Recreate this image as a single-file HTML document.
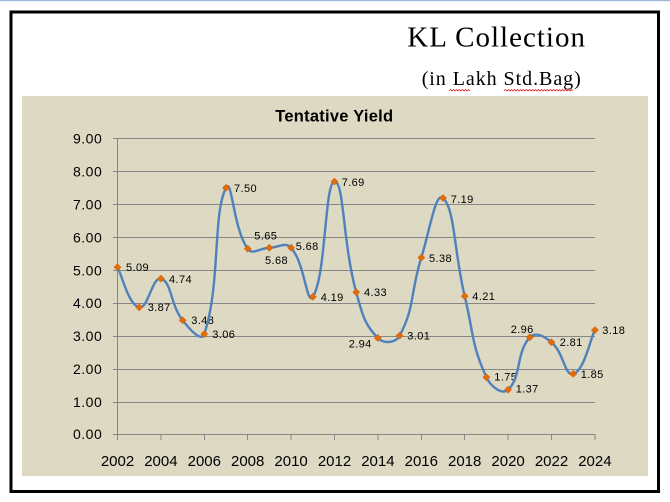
<!DOCTYPE html>
<html>
<head>
<meta charset="utf-8">
<style>
html,body{margin:0;padding:0;background:#fff;}
body{width:670px;height:502px;overflow:hidden;}
svg{display:block;}
</style>
</head>
<body>
<svg width="670" height="502" viewBox="0 0 670 502" xmlns="http://www.w3.org/2000/svg">
  <defs>
    <polygon id="dm" points="0,-3.6 3.6,0 0,3.6 -3.6,0" fill="#e36c09" stroke="#c85a06" stroke-width="0.5"/>
  </defs>
  <rect x="0" y="0" width="670" height="502" fill="#fff"/>
  <rect x="0" y="0" width="670" height="1.2" fill="#9db8d8"/>
  <rect x="11" y="12" width="647.5" height="479.5" fill="none" stroke="#000" stroke-width="3"/>

  <text x="407.3" y="46.7" font-family="Liberation Serif, serif" font-size="29" letter-spacing="1" fill="#000">KL Collection</text>
  <text x="421.7" y="85.2" font-family="Liberation Serif, serif" font-size="20" letter-spacing="0.95" fill="#000">(in Lakh Std.Bag)</text>
  <polyline fill="none" stroke="#e02020" stroke-width="0.8" points="449,90.5 450.5,89.5 452,91 453.5,89.5 455,91 456.5,89.5 458,91 459.5,89.5 461,91 462.5,89.5 464,91 465.5,89.5 467,91 468.5,89.5 470,91"/>
  <polyline fill="none" stroke="#e02020" stroke-width="0.8" points="504,90.5 505.5,89.5 507,91 508.5,89.5 510,91 511.5,89.5 513,91 514.5,89.5 516,91 517.5,89.5 519,91 520.5,89.5 522,91 523.5,89.5 525,91 526.5,89.5 528,91 529.5,89.5 531,91 532.5,89.5 534,91 535.5,89.5 537,91 538.5,89.5 540,91 541.5,89.5 543,91 544.5,89.5 546,91 547.5,89.5 549,91 550.5,89.5 552,91 553.5,89.5 555,91 556.5,89.5 558,91 559.5,89.5 561,91 562.5,89.5 564,91 565.5,89.5 567,91 568.5,89.5 570,91 571.5,89.5 573,91"/>

  <rect x="22" y="96" width="626" height="380" fill="#ddd9c3"/>

  <text x="334.3" y="121.7" text-anchor="middle" font-family="Liberation Sans, sans-serif" font-weight="bold" font-size="16.5" letter-spacing="0.25" fill="#000">Tentative Yield</text>

  <!-- gridlines -->
  <g stroke="#868686" stroke-width="1" shape-rendering="crispEdges">
    <line x1="113" y1="138.5" x2="595" y2="138.5"/>
    <line x1="113" y1="171.5" x2="595" y2="171.5"/>
    <line x1="113" y1="204.5" x2="595" y2="204.5"/>
    <line x1="113" y1="237.5" x2="595" y2="237.5"/>
    <line x1="113" y1="270.5" x2="595" y2="270.5"/>
    <line x1="113" y1="303.5" x2="595" y2="303.5"/>
    <line x1="113" y1="336.5" x2="595" y2="336.5"/>
    <line x1="113" y1="369.5" x2="595" y2="369.5"/>
    <line x1="113" y1="402.5" x2="595" y2="402.5"/>
    <line x1="113" y1="434.5" x2="595" y2="434.5"/>
    <line x1="117.5" y1="138" x2="117.5" y2="440"/>
    <line x1="160.9" y1="434" x2="160.9" y2="440"/>
    <line x1="204.3" y1="434" x2="204.3" y2="440"/>
    <line x1="247.7" y1="434" x2="247.7" y2="440"/>
    <line x1="291.1" y1="434" x2="291.1" y2="440"/>
    <line x1="334.5" y1="434" x2="334.5" y2="440"/>
    <line x1="377.9" y1="434" x2="377.9" y2="440"/>
    <line x1="421.3" y1="434" x2="421.3" y2="440"/>
    <line x1="464.7" y1="434" x2="464.7" y2="440"/>
    <line x1="508.1" y1="434" x2="508.1" y2="440"/>
    <line x1="551.5" y1="434" x2="551.5" y2="440"/>
    <line x1="594.9" y1="434" x2="594.9" y2="440"/>
  </g>

  <!-- y labels -->
  <g font-family="Liberation Sans, sans-serif" font-size="14" letter-spacing="0.5" fill="#000">
    <text x="73" y="143.5">9.00</text>
    <text x="73" y="176.5">8.00</text>
    <text x="73" y="209.4">7.00</text>
    <text x="73" y="242.3">6.00</text>
    <text x="73" y="275.3">5.00</text>
    <text x="73" y="308.2">4.00</text>
    <text x="73" y="341.1">3.00</text>
    <text x="73" y="374.1">2.00</text>
    <text x="73" y="407.0">1.00</text>
    <text x="73" y="439.0">0.00</text>
  </g>

  <!-- x labels -->
  <g font-family="Liberation Sans, sans-serif" font-size="15" text-anchor="middle" fill="#000">
    <text x="117.5" y="466">2002</text>
    <text x="160.9" y="466">2004</text>
    <text x="204.3" y="466">2006</text>
    <text x="247.7" y="466">2008</text>
    <text x="291.1" y="466">2010</text>
    <text x="334.5" y="466">2012</text>
    <text x="377.9" y="466">2014</text>
    <text x="421.3" y="466">2016</text>
    <text x="464.7" y="466">2018</text>
    <text x="508.1" y="466">2020</text>
    <text x="551.5" y="466">2022</text>
    <text x="594.9" y="466">2024</text>
  </g>

  <!-- data labels -->
  <g font-family="Liberation Sans, sans-serif" font-size="11" letter-spacing="0.4" fill="#000">
    <text x="126" y="271.2">5.09</text>
    <text x="147.7" y="310.9">3.87</text>
    <text x="169" y="282.9">4.74</text>
    <text x="191.3" y="324.2">3.48</text>
    <text x="212.3" y="337.9">3.06</text>
    <text x="234" y="192">7.50</text>
    <text x="254.3" y="239.6">5.65</text>
    <text x="265" y="263.9">5.68</text>
    <text x="295.7" y="250.2">5.68</text>
    <text x="320.7" y="300.9">4.19</text>
    <text x="341.7" y="186.2">7.69</text>
    <text x="364" y="295.9">4.33</text>
    <text x="348.7" y="347.6">2.94</text>
    <text x="407.3" y="339.6">3.01</text>
    <text x="429" y="261.9">5.38</text>
    <text x="450.7" y="202.9">7.19</text>
    <text x="472.3" y="299.9">4.21</text>
    <text x="494.3" y="380.6">1.75</text>
    <text x="515.7" y="392.6">1.37</text>
    <text x="510.7" y="333.2">2.96</text>
    <text x="559.7" y="345.9">2.81</text>
    <text x="580.7" y="377.9">1.85</text>
    <text x="602.3" y="333.9">3.18</text>
  </g>

  <!-- smoothed series -->
  <path fill="none" stroke="#4f81bd" stroke-width="2.4" stroke-linejoin="round" stroke-linecap="round" d="
M117.5,267.19
C122.38,276.23 128.27,304.46 139.2,307.36
C147.80,309.64 152.42,276.20 160.9,278.71
C171.95,281.98 170.0,304.13 182.6,320.20
C189.53,329.03 201.41,342.86 204.3,334.03
C220.93,283.29 212.42,214.51 226.0,187.82
C231.95,176.14 233.08,228.56 247.7,248.75
C252.61,255.53 259.63,247.98 269.4,247.76
C279.17,247.54 285.48,241.40 291.1,247.76
C305.01,263.48 306.67,306.17 312.8,296.82
C326.20,276.38 324.54,182.63 334.5,181.57
C344.07,180.55 342.72,243.64 356.2,292.21
C362.25,314.03 364.25,324.32 377.9,337.99
C383.78,343.88 395.46,343.35 399.6,335.68
C414.99,307.20 410.35,292.38 421.3,257.64
C429.88,230.44 435.44,191.32 443.0,198.03
C454.97,208.66 454.05,252.22 464.7,296.16
C473.58,332.83 471.36,344.76 486.4,377.17
C490.89,386.85 502.12,395.18 508.1,389.69
C521.65,377.26 515.78,352.65 529.8,337.33
C535.31,331.31 544.33,336.23 551.5,342.27
C563.86,352.68 564.62,376.29 573.2,373.88
C584.15,370.81 590.02,339.94 594.9,330.08"/>

  <!-- markers -->
  <use href="#dm" x="117.5" y="267.19"/>
  <use href="#dm" x="139.2" y="307.36"/>
  <use href="#dm" x="160.9" y="278.71"/>
  <use href="#dm" x="182.6" y="320.20"/>
  <use href="#dm" x="204.3" y="334.03"/>
  <use href="#dm" x="226.0" y="187.82"/>
  <use href="#dm" x="247.7" y="248.75"/>
  <use href="#dm" x="269.4" y="247.76"/>
  <use href="#dm" x="291.1" y="247.76"/>
  <use href="#dm" x="312.8" y="296.82"/>
  <use href="#dm" x="334.5" y="181.57"/>
  <use href="#dm" x="356.2" y="292.21"/>
  <use href="#dm" x="377.9" y="337.99"/>
  <use href="#dm" x="399.6" y="335.68"/>
  <use href="#dm" x="421.3" y="257.64"/>
  <use href="#dm" x="443.0" y="198.03"/>
  <use href="#dm" x="464.7" y="296.16"/>
  <use href="#dm" x="486.4" y="377.17"/>
  <use href="#dm" x="508.1" y="389.69"/>
  <use href="#dm" x="529.8" y="337.33"/>
  <use href="#dm" x="551.5" y="342.27"/>
  <use href="#dm" x="573.2" y="373.88"/>
  <use href="#dm" x="594.9" y="330.08"/>
</svg>
</body>
</html>
